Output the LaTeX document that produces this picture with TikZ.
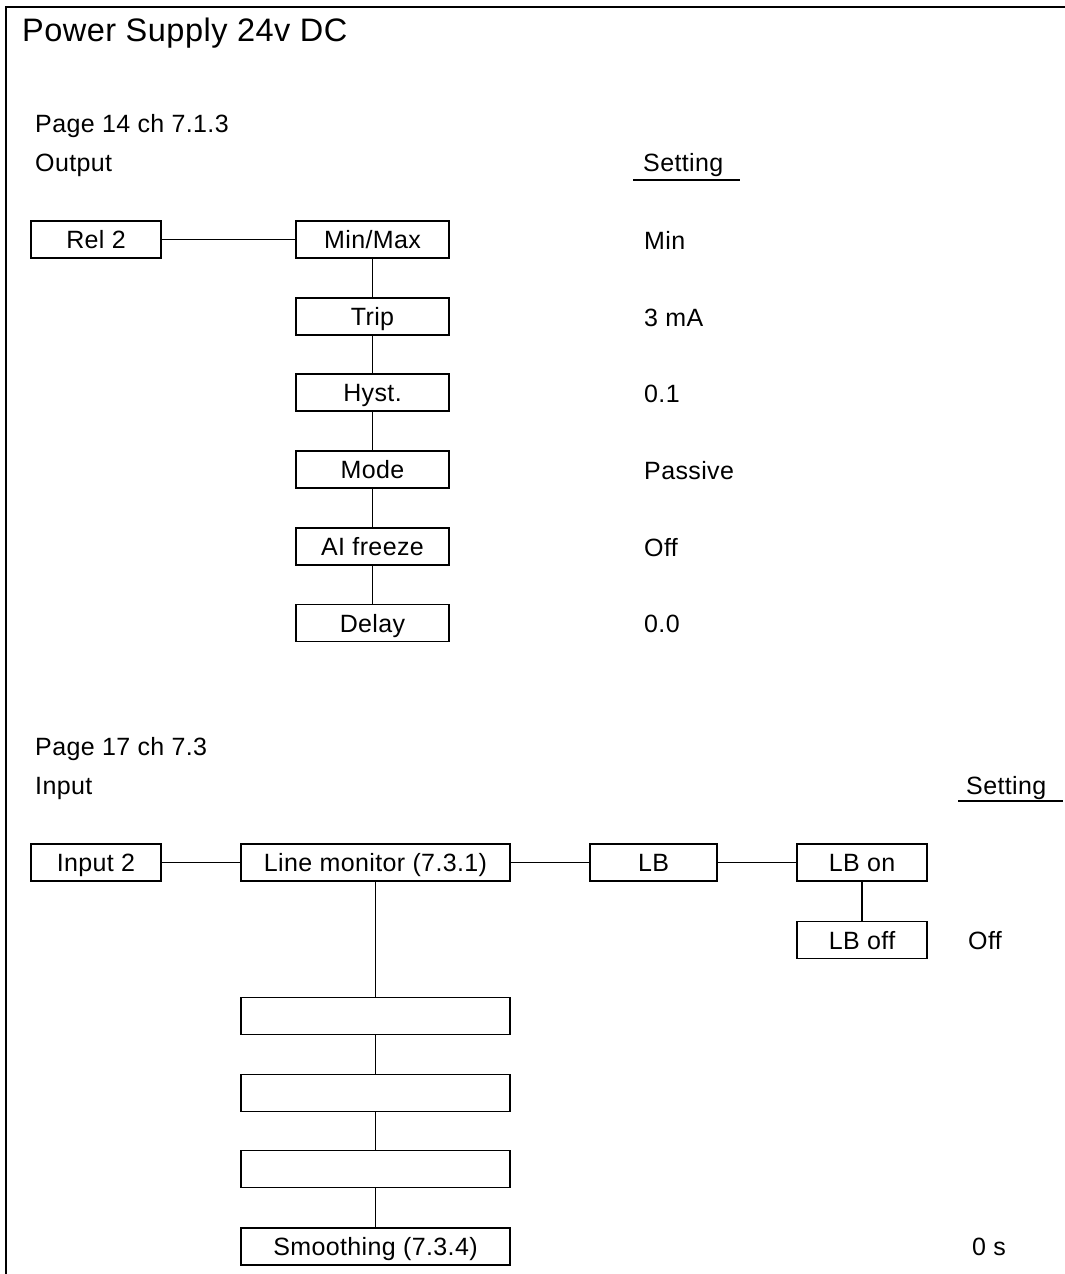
\documentclass[tikz,border=0pt]{standalone}
\usepackage{fontspec}
\setmainfont{Liberation Sans}[LetterSpace=1.5]
\begin{document}
\begin{tikzpicture}[x=1pt,y=-1pt,
  box/.style={draw=black,line width=1.8pt,minimum height=37pt,inner sep=2pt,
    font=\fontsize{25}{29}\selectfont,text height=18pt,text depth=0pt,anchor=center},
  lbl/.style={anchor=base west,inner sep=0pt,font=\fontsize{25}{29}\selectfont},
  conn/.style={line width=1.8pt},
  frame/.style={line width=2pt}]
\useasboundingbox (0,0) rectangle (1065,1274);
% frame
\coordinate (fTL) at (6,6.5);
\coordinate (fTR) at (1065,6.5);
\coordinate (fBL) at (6,1274);
\draw[frame] (fBL) -- (fTL) -- (fTR);
% headings
\node[lbl,font=\fontsize{32.5}{36}\selectfont] (title) at (22,41) {Power Supply 24v DC};
\node[lbl] (page14) at (35,132) {Page 14 ch 7.1.3};
\node[lbl] (output) at (35,171) {Output};
\node[lbl] (set1) at (643,171) {Setting};
\coordinate (u1a) at (633,180);
\coordinate (u1b) at (740,180);
\draw[conn] (u1a) -- (u1b);
% output section
\node[box,minimum width=130pt] (rel2) at (96,239.5) {Rel 2};
\node[box,minimum width=153pt] (minmax) at (372.5,239.5) {Min/Max};
\node[box,minimum width=153pt] (trip) at (372.5,316.5) {Trip};
\node[box,minimum width=153pt] (hyst) at (372.5,392.5) {Hyst.};
\node[box,minimum width=153pt] (mode) at (372.5,469.5) {Mode};
\node[box,minimum width=153pt] (aifreeze) at (372.5,546.5) {AI freeze};
\node[box,minimum width=153pt] (delay) at (372.5,623) {Delay};
\draw[conn] (rel2) -- (minmax);
\draw[conn] (minmax) -- (trip);
\draw[conn] (trip) -- (hyst);
\draw[conn] (hyst) -- (mode);
\draw[conn] (mode) -- (aifreeze);
\draw[conn] (aifreeze) -- (delay);
\node[lbl] (vmin) at (644,249) {Min};
\node[lbl] (vtrip) at (644,326) {3 mA};
\node[lbl] (vhyst) at (644,402) {0.1};
\node[lbl] (vmode) at (644,479) {Passive};
\node[lbl] (vai) at (644,556) {Off};
\node[lbl] (vdelay) at (644,632.5) {0.0};
% input section
\node[lbl] (page17) at (35,755) {Page 17 ch 7.3};
\node[lbl] (input) at (35,794) {Input};
\node[lbl] (set2) at (966,794) {Setting};
\coordinate (u2a) at (958,801);
\coordinate (u2b) at (1063,801);
\draw[conn] (u2a) -- (u2b);
\node[box,minimum width=130pt] (input2) at (96,862.5) {Input 2};
\node[box,minimum width=269pt] (linemon) at (375.5,862.5) {Line monitor (7.3.1)};
\node[box,minimum width=127pt] (lb) at (653.5,862.5) {LB};
\node[box,minimum width=130pt] (lbon) at (862,862.5) {LB on};
\node[box,minimum width=130pt] (lboff) at (862,940) {LB off};
\node[box,minimum width=269pt] (e1) at (375.5,1016) {};
\node[box,minimum width=269pt] (e2) at (375.5,1093) {};
\node[box,minimum width=269pt] (e3) at (375.5,1169) {};
\node[box,minimum width=269pt] (smooth) at (375.5,1246.5) {Smoothing (7.3.4)};
\draw[conn] (input2) -- (linemon);
\draw[conn] (linemon) -- (lb);
\draw[conn] (lb) -- (lbon);
\draw[conn] (lbon) -- (lboff);
\draw[conn] (linemon) -- (e1);
\draw[conn] (e1) -- (e2);
\draw[conn] (e2) -- (e3);
\draw[conn] (e3) -- (smooth);
\node[lbl] (vlboff) at (968,949) {Off};
\node[lbl] (vsmooth) at (972,1255.5) {0 s};
\end{tikzpicture}
\end{document}
